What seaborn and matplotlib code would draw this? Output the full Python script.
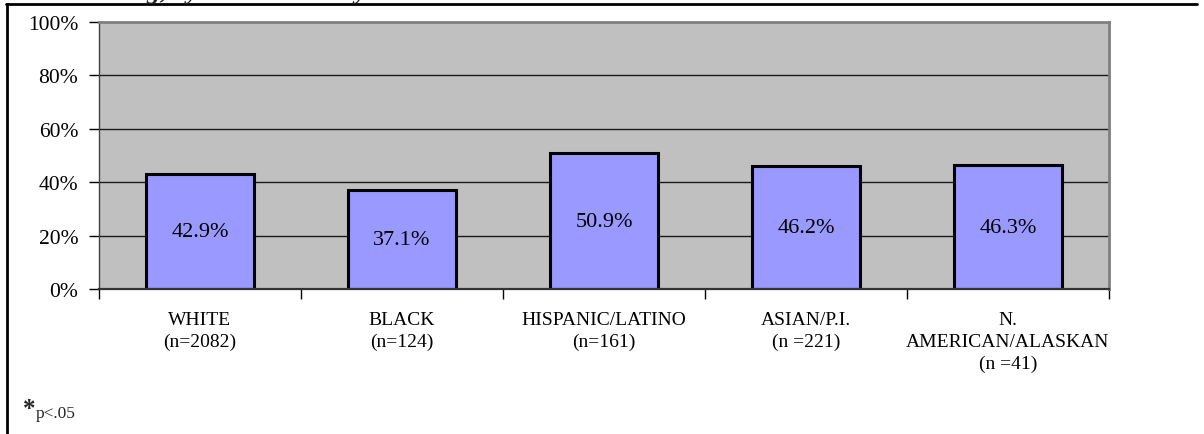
import matplotlib
matplotlib.use("Agg")
import matplotlib.pyplot as plt
from matplotlib.lines import Line2D
import seaborn as sns
import pandas as pd

# Category labels (two/three-line, with sample sizes) and percentages
groups = ["WHITE\n(n=2082)", "BLACK\n(n=124)", "HISPANIC/LATINO\n(n=161)",
          "ASIAN/P.I.\n(n =221)", "N.\nAMERICAN/ALASKAN\n(n =41)"]
percents = [42.9, 37.1, 50.9, 46.2, 46.3]
y_ticks = [0, 20, 40, 60, 80, 100]
y_tick_labels = ["0%", "20%", "40%", "60%", "80%", "100%"]

df = pd.DataFrame({"group": groups, "pct": percents})

sns.set_theme(style="white")
plt.rcParams["font.family"] = ["Liberation Serif", "DejaVu Serif"]

W, H = 1204, 435
fig = plt.figure(figsize=(W / 100, H / 100), dpi=100)
ax = fig.add_axes([99 / W, 1 - 290 / H, (1109 - 99) / W, (290 - 23) / H])
ax.set_facecolor("#C0C0C0")

sns.barplot(data=df, x="group", y="pct", ax=ax, color="#9999FF",
            saturation=1, width=0.53, edgecolor="black", linewidth=2.2,
            zorder=3)

ax.set_xlim(-0.5, len(groups) - 0.5)
ax.set_ylim(0, 100)
ax.set_xlabel("")
ax.set_ylabel("")

# horizontal gridlines (inner only)
for v in y_ticks[1:-1]:
    ax.axhline(v, color="#1a1a1a", lw=1.0, zorder=1)

ax.set_yticks(y_ticks)
ax.set_yticklabels(y_tick_labels, fontsize=15.5, color="black")
ax.tick_params(axis="y", which="major", length=7, width=1, color="black",
               direction="out", pad=8, left=True)

ax.set_xticks(range(len(groups)))
ax.set_xticklabels(groups, fontsize=14, color="black", linespacing=1.35,
                   va="top")
ax.tick_params(axis="x", which="major", length=0, pad=16)
ax.set_xticks([i - 0.5 for i in range(len(groups) + 1)], minor=True)
ax.tick_params(axis="x", which="minor", length=7, width=1, color="black",
               direction="out", bottom=True)

for side in ["top", "right"]:
    ax.spines[side].set_color("#808080")
    ax.spines[side].set_linewidth(2.0)
ax.spines["left"].set_color("#404040")
ax.spines["left"].set_linewidth(1.0)
ax.spines["bottom"].set_color("#333333")
ax.spines["bottom"].set_linewidth(1.6)
for s in ax.spines.values():
    s.set_zorder(4)

# value labels centred in each bar
for i, v in enumerate(percents):
    ax.text(i, v / 2, f"{v:.1f}%", ha="center", va="center",
            fontsize=16, color="black", zorder=5)

# outer frame (top and left edges)
fig.add_artist(Line2D([6 / W, 1197 / W], [1 - 5 / H, 1 - 5 / H],
                      color="black", lw=2.0, transform=fig.transFigure))
fig.add_artist(Line2D([7 / W, 7 / W], [1 - 5 / H, 0],
                      color="black", lw=2.0, transform=fig.transFigure))

# title running off the top edge
fig.text(82 / W, 1 + 1.5 / H, "Testing, by Race/Ethnicity", ha="left",
         va="baseline", fontsize=19, fontweight="bold", fontstyle="italic")

# significance footnote
fig.text(23 / W, 1 - 410 / H, "*", fontsize=18, fontweight="bold",
         ha="left", va="center")
fig.text(36 / W, 1 - 414 / H, "p<.05", fontsize=12.5, ha="left", va="center")

fig.savefig("out.png", dpi=100)
